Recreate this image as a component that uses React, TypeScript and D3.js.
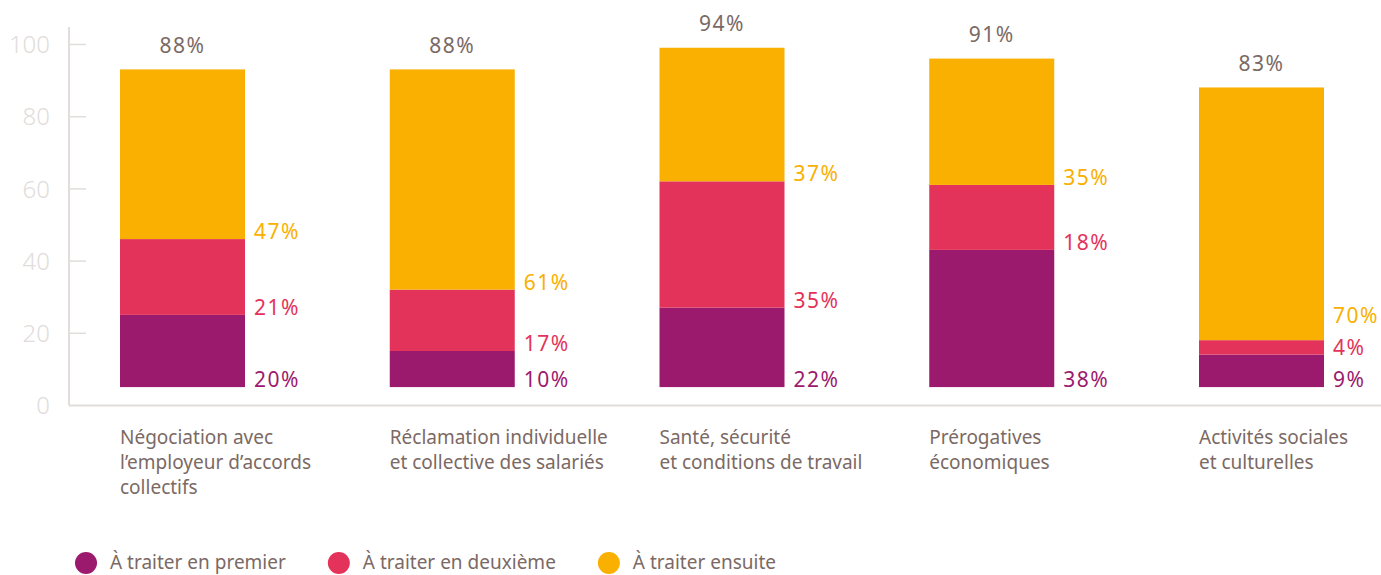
import React, { useRef, useEffect } from 'react';
import * as d3 from 'd3';

// Categories (each line of the label)
const categories = [
  ['Négociation avec', 'l\u2019employeur d\u2019accords', 'collectifs'],
  ['Réclamation individuelle', 'et collective des salariés'],
  ['Santé, sécurité', 'et conditions de travail'],
  ['Prérogatives', 'économiques'],
  ['Activités sociales', 'et culturelles'],
];

// Series values (%)
const premier = [20, 10, 22, 38, 9];
const deuxieme = [21, 17, 35, 18, 4];
const ensuite = [47, 61, 37, 35, 70];
const totals = [88, 88, 94, 91, 83];

const seriesNames = ['À traiter en premier', 'À traiter en deuxième', 'À traiter ensuite'];
const seriesColors = ['#9c1a6d', '#e3335a', '#f9b000'];

const yTicks = [0, 20, 40, 60, 80, 100];

const TEXT = '#7b6964';
const AXIS = '#e2dcda';
const FONT = '"Noto Sans", sans-serif';

const App: React.FC = () => {
  const svgRef = useRef<SVGSVGElement>(null);
  const width = 1381;
  const height = 575;

  useEffect(() => {
    if (!svgRef.current) return;
    const svg = d3.select(svgRef.current);
    svg.selectAll('*').remove();

    const axisX = 69;
    const yScale = d3.scaleLinear().domain([0, 100]).range([405.5, 44.5]);
    // bars sit slightly above the baseline
    const barBase = 5.1;

    const ids = categories.map((_, i) => String(i));
    const xScale = d3.scaleBand<string>()
      .domain(ids)
      .range([120, 1324])
      .paddingInner(0.5366)
      .paddingOuter(0);

    // axis lines
    svg.append('line')
      .attr('x1', axisX).attr('x2', axisX)
      .attr('y1', 27).attr('y2', yScale(0))
      .attr('stroke', AXIS).attr('stroke-width', 2);
    svg.append('line')
      .attr('x1', axisX).attr('x2', width)
      .attr('y1', yScale(0)).attr('y2', yScale(0))
      .attr('stroke', AXIS).attr('stroke-width', 2);

    const tickG = svg.append('g');
    tickG.selectAll('line')
      .data(yTicks.filter(t => t > 0))
      .enter().append('line')
      .attr('x1', axisX).attr('x2', axisX + 17)
      .attr('y1', d => yScale(d)).attr('y2', d => yScale(d))
      .attr('stroke', AXIS).attr('stroke-width', 1.5);
    tickG.selectAll('text')
      .data(yTicks)
      .enter().append('text')
      .attr('x', 50)
      .attr('y', d => yScale(d))
      .attr('dy', '0.36em')
      .attr('text-anchor', 'end')
      .style('font-family', FONT)
      .style('font-size', '24px')
      .style('font-weight', 300)
      .style('fill', AXIS)
      .text(d => String(d));

    const series = [premier, deuxieme, ensuite];

    ids.forEach((id, i) => {
      const x0 = xScale(id) as number;
      const bw = xScale.bandwidth();
      let cum = barBase;
      let lastLabelY = Infinity;
      series.forEach((vals, s) => {
        const v = vals[i];
        const yTop = yScale(cum + v);
        const yBot = yScale(cum);
        svg.append('rect')
          .attr('x', x0)
          .attr('y', yTop)
          .attr('width', bw)
          .attr('height', yBot - yTop)
          .attr('fill', seriesColors[s]);
        let ly = yBot;
        if (lastLabelY - ly < 32) ly = lastLabelY - 32;
        lastLabelY = ly;
        svg.append('text')
          .attr('x', x0 + bw + 9)
          .attr('y', ly)
          .style('font-family', FONT)
          .style('font-size', '21px')
          .style('letter-spacing', '1.5px')
          .style('fill', seriesColors[s])
          .text(`${v}%`);
        cum += v;
      });

      // total label
      svg.append('text')
        .attr('x', x0 + bw / 2)
        .attr('y', yScale(barBase + totals[i]) - 16.5)
        .attr('text-anchor', 'middle')
        .style('font-family', FONT)
        .style('font-size', '21px')
        .style('letter-spacing', '1.5px')
        .style('fill', TEXT)
        .text(`${totals[i]}%`);

      // category label
      const t = svg.append('text')
        .attr('x', x0)
        .attr('y', 444)
        .style('font-family', FONT)
        .style('font-size', '19px')
        .style('fill', TEXT);
      categories[i].forEach((line, k) => {
        t.append('tspan')
          .attr('x', x0)
          .attr('y', 444 + k * 25)
          .text(line);
      });
    });

    // legend
    let lx = 86;
    seriesNames.forEach((name, s) => {
      svg.append('circle')
        .attr('cx', lx)
        .attr('cy', 563)
        .attr('r', 11)
        .attr('fill', seriesColors[s]);
      const txt = svg.append('text')
        .attr('x', lx + 24)
        .attr('y', 569)
        .style('font-family', FONT)
        .style('font-size', '19px')
        .style('fill', TEXT)
        .text(name);
      const w = (txt.node() as SVGTextElement).getComputedTextLength();
      lx = lx + 24 + w + 42 + 11;
    });
  }, []);

  return (
    <svg
      ref={svgRef}
      width={width}
      height={height}
      style={{ position: 'absolute', left: 0, top: 0, background: '#fff' }}
    />
  );
};

export default App;
